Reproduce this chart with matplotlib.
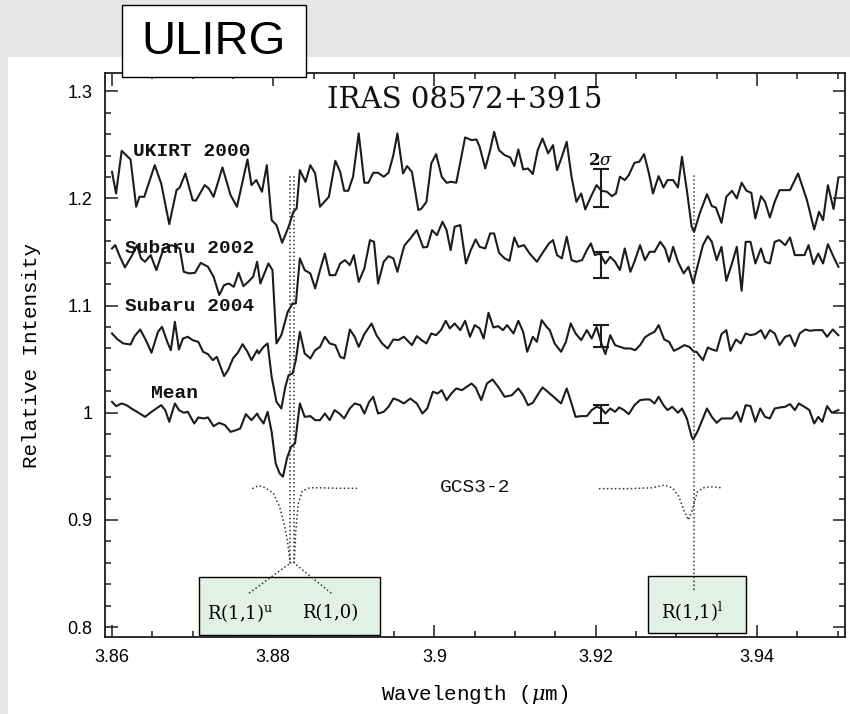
import numpy as np
import matplotlib
matplotlib.use("Agg")
import matplotlib.pyplot as plt
from matplotlib.patches import Rectangle
from matplotlib.ticker import MultipleLocator, FuncFormatter

plt.rcParams['mathtext.fontset'] = 'custom'
plt.rcParams['mathtext.rm'] = 'DejaVu Serif'
plt.rcParams['mathtext.it'] = 'DejaVu Serif:italic'

# ---------------- data ----------------
ukirt_wl = [3.8600, 3.8605, 3.8612, 3.8623, 3.8630, 3.8634, 3.8640, 3.8653, 3.8661, 3.8671, 3.8680, 3.8684,
            3.8691, 3.8700, 3.8704, 3.8715, 3.8720, 3.8726, 3.8737, 3.8747, 3.8755, 3.8768, 3.8773, 3.8779,
            3.8786, 3.8792, 3.8798, 3.8804, 3.8811, 3.8819, 3.8825, 3.8829, 3.8833, 3.8840,
            3.8846, 3.8852, 3.8858, 3.8869, 3.8877, 3.8883, 3.8888, 3.8893, 3.8899, 3.8906,
            3.8913, 3.8918, 3.8924, 3.8930, 3.8937, 3.8943, 3.8949, 3.8954, 3.8961,
            3.8966, 3.8972, 3.8980, 3.8984, 3.8990, 3.8996, 3.9002, 3.9009, 3.9015, 3.9021,
            3.9027, 3.9038, 3.9046, 3.9052, 3.9056, 3.9063, 3.9069, 3.9074, 3.9080, 3.9087,
            3.9094, 3.9099, 3.9104, 3.9110, 3.9116, 3.9122, 3.9128, 3.9134, 3.9141,
            3.9147, 3.9152, 3.9158, 3.9164, 3.9170, 3.9176, 3.9182, 3.9187, 3.9194, 3.9201,
            3.9207, 3.9214, 3.9220, 3.9225, 3.9230, 3.9236, 3.9241, 3.9248, 3.9254, 3.9260,
            3.9266, 3.9271, 3.9278, 3.9284, 3.9289, 3.9296, 3.9302, 3.9307, 3.9313, 3.9319,
            3.9322, 3.9329, 3.9338, 3.9344, 3.9349, 3.9356, 3.9362, 3.9369, 3.9375, 3.9381,
            3.9387, 3.9393, 3.9398, 3.9405, 3.9410, 3.9416, 3.9422, 3.9428, 3.9433, 3.9441,
            3.9451, 3.9462, 3.9471, 3.9477, 3.9482, 3.9488, 3.9495, 3.9501]
ukirt_int = [1.2248, 1.2046, 1.2444, 1.2363, 1.1922, 1.2015, 1.2015, 1.2310, 1.2139, 1.1760, 1.2077, 1.2102,
             1.2233, 1.1984, 1.1978, 1.2124, 1.2093, 1.2015, 1.2289, 1.2031, 1.1922, 1.2363, 1.2124, 1.2171,
             1.2062, 1.2310, 1.1797, 1.1751, 1.1586, 1.1735, 1.1875, 1.1906, 1.2264, 1.2155,
             1.2310, 1.2233, 1.1922, 1.2015, 1.2351, 1.2248, 1.2071, 1.2071, 1.2202, 1.2606,
             1.2146, 1.2146, 1.2239, 1.2239, 1.2202, 1.2239, 1.2404, 1.2606, 1.2233,
             1.2301, 1.2248, 1.1891, 1.1906, 1.1968, 1.2326, 1.2413, 1.2202, 1.2146, 1.2155,
             1.2146, 1.2569, 1.2544, 1.2550, 1.2482, 1.2279, 1.2450, 1.2621, 1.2450, 1.2404,
             1.2382, 1.2301, 1.2457, 1.2270, 1.2279, 1.2227, 1.2450, 1.2559, 1.2420,
             1.2497, 1.2264, 1.2388, 1.2528, 1.2202, 1.1968, 1.2046, 1.1897, 1.2015, 1.2124,
             1.2071, 1.2062, 1.2021, 1.2046, 1.2202, 1.2171, 1.2217, 1.2332, 1.2342, 1.2413,
             1.2233, 1.2046, 1.2208, 1.2102, 1.2171, 1.2171, 1.2102, 1.2388, 1.2077, 1.1735,
             1.1688, 1.1860, 1.2040, 1.1928, 1.1915, 1.1772, 1.2015, 1.2071, 1.2000, 1.2146,
             1.2071, 1.2052, 1.1813, 1.2021, 1.1968, 1.1822, 1.1968, 1.2077, 1.2077, 1.2077,
             1.2233, 1.1984, 1.1710, 1.1875, 1.1797, 1.2124, 1.1900, 1.2195]

subaru02_wl = [3.8600, 3.8604, 3.8609, 3.8616, 3.8625, 3.8631, 3.8636, 3.8641, 3.8648, 3.8655, 3.8664, 3.8674,
               3.8684, 3.8689, 3.8696, 3.8703, 3.8710, 3.8719, 3.8726, 3.8733, 3.8739, 3.8745, 3.8751, 3.8757,
               3.8763, 3.8769, 3.8775, 3.8780,
               3.8784, 3.8789, 3.8794, 3.8799, 3.8804, 3.8810, 3.8818, 3.8824, 3.8828, 3.8833,
               3.8839, 3.8846, 3.8852, 3.8858, 3.8864, 3.8870, 3.8877, 3.8883, 3.8889, 3.8895,
               3.8900, 3.8906, 3.8913, 3.8920, 3.8925, 3.8930, 3.8937, 3.8943, 3.8949, 3.8954, 3.8961,
               3.8963, 3.8970, 3.8978, 3.8986, 3.8991, 3.8997, 3.9003, 3.9010, 3.9015, 3.9020,
               3.9025, 3.9032, 3.9039, 3.9045, 3.9051, 3.9056, 3.9063, 3.9069, 3.9074, 3.9080,
               3.9087, 3.9093, 3.9099, 3.9104, 3.9111, 3.9118, 3.9127, 3.9135, 3.9142,
               3.9147, 3.9152, 3.9158, 3.9164, 3.9170, 3.9176, 3.9183, 3.9189, 3.9194, 3.9199,
               3.9205, 3.9212, 3.9218, 3.9224, 3.9230, 3.9236, 3.9243, 3.9248, 3.9255, 3.9261,
               3.9267, 3.9273, 3.9280, 3.9286, 3.9291, 3.9296, 3.9302, 3.9309, 3.9315, 3.9321,
               3.9325, 3.9333, 3.9339, 3.9344, 3.9350, 3.9356, 3.9362, 3.9369, 3.9375, 3.9381,
               3.9386, 3.9392, 3.9398, 3.9405, 3.9410, 3.9416, 3.9422, 3.9428, 3.9435, 3.9441,
               3.9447, 3.9453, 3.9459, 3.9464, 3.9470, 3.9476, 3.9482, 3.9488, 3.9495, 3.9501]
subaru02_int = [1.1533, 1.1564, 1.1471, 1.1356, 1.1471, 1.1564, 1.1440, 1.1409, 1.1471, 1.1331, 1.1533, 1.1564,
                1.1533, 1.1315, 1.1300, 1.1306, 1.1399, 1.1362, 1.1269, 1.1098, 1.1191, 1.1206, 1.1175, 1.1306,
                1.1181, 1.1222, 1.1269, 1.1409,
                1.1206, 1.1300, 1.1393, 1.1331, 1.0647, 1.0724, 1.0942, 1.1020, 1.1020, 1.1440,
                1.1331, 1.1300, 1.1160, 1.1331, 1.1486, 1.1284, 1.1284, 1.1393, 1.1424, 1.1377,
                1.1471, 1.1222, 1.1346, 1.1611, 1.1595, 1.1206, 1.1409, 1.1461, 1.1440, 1.1315, 1.1518,
                1.1564, 1.1626, 1.1704, 1.1542, 1.1548, 1.1704, 1.1657, 1.1782, 1.1704, 1.1517,
                1.1735, 1.1751, 1.1393, 1.1517, 1.1617, 1.1548, 1.1533, 1.1673, 1.1673, 1.1493,
                1.1440, 1.1418, 1.1636, 1.1548, 1.1564, 1.1486, 1.1409, 1.1502, 1.1580,
                1.1611, 1.1471, 1.1440, 1.1642, 1.1424, 1.1409, 1.1424, 1.1517, 1.1580, 1.1471,
                1.1486, 1.1393, 1.1455, 1.1409, 1.1331, 1.1533, 1.1315, 1.1409, 1.1564, 1.1424,
                1.1502, 1.1502, 1.1595, 1.1533, 1.1409, 1.1548, 1.1409, 1.1300, 1.1362, 1.1206,
                1.1331, 1.1564, 1.1648, 1.1595, 1.1424, 1.1548, 1.1231, 1.1393, 1.1548, 1.1138,
                1.1595, 1.1595, 1.1393, 1.1533, 1.1409, 1.1393, 1.1595, 1.1611, 1.1564, 1.1636,
                1.1471, 1.1471, 1.1471, 1.1564, 1.1387, 1.1486, 1.1393, 1.1573, 1.1455, 1.1362]

subaru04_wl = [3.8600, 3.8607, 3.8614, 3.8623, 3.8628, 3.8635, 3.8643, 3.8649, 3.8657, 3.8662, 3.8669, 3.8673,
               3.8678, 3.8683, 3.8688, 3.8694, 3.8700, 3.8707, 3.8713, 3.8719, 3.8725, 3.8730, 3.8735, 3.8739,
               3.8744, 3.8750, 3.8756, 3.8762, 3.8768, 3.8773, 3.8780,
               3.8782, 3.8788, 3.8793, 3.8798, 3.8804, 3.8810, 3.8815, 3.8819, 3.8824, 3.8828,
               3.8833, 3.8839, 3.8846, 3.8852, 3.8858, 3.8864, 3.8870, 3.8877, 3.8883, 3.8888,
               3.8895, 3.8901, 3.8906, 3.8913, 3.8922, 3.8928, 3.8935, 3.8942, 3.8949, 3.8955, 3.8962,
               3.8972, 3.8978, 3.8984, 3.8990, 3.8996, 3.9002, 3.9008, 3.9014, 3.9019, 3.9025,
               3.9032, 3.9038, 3.9044, 3.9050, 3.9056, 3.9061, 3.9067, 3.9073, 3.9079, 3.9085,
               3.9090, 3.9098, 3.9104, 3.9110, 3.9115, 3.9122, 3.9127, 3.9133, 3.9139,
               3.9143, 3.9149, 3.9157, 3.9163, 3.9169, 3.9175, 3.9182, 3.9189, 3.9195, 3.9201,
               3.9207, 3.9212, 3.9218, 3.9224, 3.9230, 3.9236, 3.9243, 3.9249, 3.9255, 3.9261,
               3.9267, 3.9273, 3.9278, 3.9285, 3.9291, 3.9297, 3.9303, 3.9310, 3.9316, 3.9322,
               3.9325, 3.9333, 3.9339, 3.9344, 3.9350, 3.9356, 3.9362, 3.9367, 3.9374, 3.9380,
               3.9386, 3.9392, 3.9398, 3.9405, 3.9410, 3.9416, 3.9422, 3.9428, 3.9435, 3.9441,
               3.9447, 3.9453, 3.9460, 3.9466, 3.9472, 3.9481, 3.9487, 3.9494, 3.9501]
subaru04_int = [1.0740, 1.0684, 1.0647, 1.0637, 1.0715, 1.0777, 1.0662, 1.0560, 1.0755, 1.0802, 1.0653, 1.0584,
                1.0849, 1.0590, 1.0693, 1.0709, 1.0678, 1.0662, 1.0569, 1.0547, 1.0491, 1.0522, 1.0423, 1.0342,
                1.0398, 1.0507, 1.0560, 1.0640, 1.0569, 1.0491, 1.0584,
                1.0553, 1.0615, 1.0647, 1.0336, 1.0102, 1.0040, 1.0242, 1.0351, 1.0367, 1.0491,
                1.0755, 1.0553, 1.0507, 1.0584, 1.0615, 1.0709, 1.0647, 1.0631, 1.0522, 1.0507,
                1.0777, 1.0709, 1.0615, 1.0734, 1.0833, 1.0724, 1.0647, 1.0600, 1.0684, 1.0678, 1.0709,
                1.0631, 1.0715, 1.0678, 1.0647, 1.0740, 1.0724, 1.0771, 1.0858, 1.0787, 1.0833,
                1.0771, 1.0858, 1.0709, 1.0818, 1.0787, 1.0693, 1.0933, 1.0796, 1.0808, 1.0771,
                1.0818, 1.0740, 1.0858, 1.0755, 1.0569, 1.0709, 1.0662, 1.0864, 1.0802,
                1.0771, 1.0647, 1.0569, 1.0662, 1.0833, 1.0740, 1.0678, 1.0771, 1.0693, 1.0802,
                1.0647, 1.0547, 1.0724, 1.0631, 1.0615, 1.0600, 1.0600, 1.0584, 1.0631, 1.0703,
                1.0734, 1.0755, 1.0818, 1.0684, 1.0662, 1.0578, 1.0600, 1.0631, 1.0615, 1.0569,
                1.0569, 1.0491, 1.0609, 1.0591, 1.0578, 1.0734, 1.0771, 1.0578, 1.0684, 1.0647,
                1.0740, 1.0724, 1.0734, 1.0771, 1.0693, 1.0771, 1.0740, 1.0631, 1.0709, 1.0724,
                1.0622, 1.0740, 1.0777, 1.0765, 1.0771, 1.0771, 1.0709, 1.0777, 1.0724]

mean_wl = [3.8600, 3.8605, 3.8612, 3.8618, 3.8624, 3.8631, 3.8641, 3.8649, 3.8655, 3.8661, 3.8666, 3.8671,
           3.8678, 3.8683, 3.8689, 3.8694, 3.8702, 3.8707, 3.8714, 3.8719, 3.8726, 3.8733, 3.8740, 3.8747,
           3.8754, 3.8759, 3.8766, 3.8773, 3.8780,
           3.8782, 3.8788, 3.8793, 3.8798, 3.8803, 3.8808, 3.8812, 3.8817, 3.8822, 3.8827,
           3.8833, 3.8839, 3.8846, 3.8852, 3.8858, 3.8864, 3.8870, 3.8876, 3.8882, 3.8888,
           3.8895, 3.8901, 3.8908, 3.8913, 3.8919, 3.8924, 3.8930, 3.8937, 3.8943, 3.8949, 3.8955, 3.8962,
           3.8970, 3.8978, 3.8985, 3.8991, 3.8998, 3.9004, 3.9009, 3.9015, 3.9021, 3.9027,
           3.9034, 3.9040, 3.9046, 3.9051, 3.9058, 3.9065, 3.9072, 3.9079, 3.9087, 3.9096,
           3.9104, 3.9110, 3.9116, 3.9122, 3.9129, 3.9134, 3.9143,
           3.9150, 3.9157, 3.9164, 3.9170, 3.9175, 3.9182, 3.9189, 3.9195, 3.9201, 3.9207,
           3.9212, 3.9218, 3.9224, 3.9229, 3.9235, 3.9241, 3.9248, 3.9255, 3.9261, 3.9267,
           3.9273, 3.9278, 3.9284, 3.9289, 3.9295, 3.9302, 3.9307, 3.9313, 3.9319,
           3.9321, 3.9327, 3.9338, 3.9344, 3.9350, 3.9356, 3.9362, 3.9369, 3.9375, 3.9380,
           3.9386, 3.9392, 3.9398, 3.9404, 3.9410, 3.9416, 3.9422, 3.9429, 3.9435, 3.9441,
           3.9447, 3.9452, 3.9460, 3.9465, 3.9471, 3.9476, 3.9481, 3.9487, 3.9493, 3.9501]
mean_int = [1.0102, 1.0062, 1.0087, 1.0071, 1.0040, 1.0009, 0.9962, 1.0009, 1.0040, 1.0071, 1.0025, 0.9916,
            1.0087, 1.0025, 1.0000, 1.0009, 0.9900, 0.9956, 0.9947, 0.9956, 0.9875, 0.9906, 0.9885, 0.9822,
            0.9838, 0.9853, 0.9987, 0.9931, 0.9993,
            0.9962, 0.9900, 1.0009, 0.9822, 0.9527, 0.9434, 0.9403, 0.9574, 0.9683, 0.9714,
            1.0087, 0.9962, 0.9969, 0.9931, 0.9931, 0.9993, 0.9931, 1.0025, 0.9993, 0.9947,
            1.0040, 1.0087, 1.0071, 0.9993, 1.0102, 1.0149, 0.9993, 1.0009, 1.0056, 1.0133, 1.0118, 1.0087,
            1.0133, 1.0087, 0.9993, 1.0040, 1.0196, 1.0180, 1.0211, 1.0118, 1.0180, 1.0227,
            1.0211, 1.0242, 1.0273, 1.0236, 1.0118, 1.0273, 1.0311, 1.0242, 1.0149, 1.0164,
            1.0227, 1.0164, 1.0071, 1.0093, 1.0180, 1.0236, 1.0180,
            1.0133, 1.0087, 1.0227, 1.0087, 0.9962, 0.9969, 0.9969, 1.0025, 1.0056, 1.0040,
            0.9993, 1.0040, 1.0009, 1.0050, 1.0025, 0.9987, 1.0071, 1.0118, 1.0124, 1.0124,
            1.0087, 1.0149, 1.0071, 1.0025, 1.0056, 1.0000, 1.0040, 0.9947, 0.9776,
            0.9751, 0.9838, 1.0040, 0.9962, 0.9906, 0.9947, 0.9947, 0.9947, 1.0009, 0.9916,
            1.0071, 1.0062, 0.9916, 1.0040, 0.9962, 0.9947, 1.0040, 1.0050, 1.0056, 1.0081,
            1.0025, 1.0087, 1.0050, 1.0025, 0.9900, 0.9962, 0.9916, 1.0062, 1.0000, 1.0025]

# GCS3-2 comparison spectrum (dotted)
gcs_left_wl = [3.8774, 3.8782, 3.8790, 3.8800, 3.8808, 3.8814, 3.8818, 3.8821,
               3.8826, 3.8828, 3.8831, 3.8836, 3.8845, 3.8860, 3.8880, 3.8904]
gcs_left_int = [0.9292, 0.9320, 0.9300, 0.9250, 0.9120, 0.8950, 0.8780, 0.8600,
                0.8600, 0.8900, 0.9150, 0.9270, 0.9300, 0.9300, 0.9295, 0.9295]
gcs_right_wl = [3.9204, 3.9240, 3.9270, 3.9285, 3.9295, 3.9303, 3.9310, 3.9315,
                3.9320, 3.9326, 3.9333, 3.9345, 3.9356]
gcs_right_int = [0.9292, 0.9292, 0.9300, 0.9325, 0.9300, 0.9220, 0.9080, 0.9000,
                 0.9100, 0.9260, 0.9300, 0.9310, 0.9300]

# H3+ line positions
line_wl = [3.8821, 3.8826, 3.9322]
line_names = [r'R(1,1)$^{\mathrm{u}}$', 'R(1,0)', r'R(1,1)$^{\mathrm{l}}$']

# 2-sigma error bars
errbar_wl = 3.9206
errbar_center = [1.2094, 1.1377, 1.0717, 0.9986]
errbar_half = [0.0176, 0.0123, 0.0101, 0.0086]

spec_names = ['UKIRT 2000', 'Subaru 2002', 'Subaru 2004', 'Mean']
spec_label_pos = [(3.8626, 1.2442), (3.8616, 1.1532), (3.8616, 1.0991), (3.8648, 1.0179)]

# ---------------- figure ----------------
W, H = 850, 714
fig = plt.figure(figsize=(W / 100, H / 100), dpi=100)
fig.patch.set_facecolor('#e6e6e6')
fig.patches.append(Rectangle((8 / W, 0), 1, (H - 57) / H, transform=fig.transFigure,
                             facecolor='white', edgecolor='none', zorder=-10))

ax_l, ax_r, ax_t, ax_b = 105, 845, 73, 637
ax = fig.add_axes([ax_l / W, 1 - ax_b / H, (ax_r - ax_l) / W, (ax_b - ax_t) / H])
ax.set_xlim(3.85913, 3.95092)
ax.set_ylim(0.7908, 1.3170)

ink = '#1c1c1c'
specs = [(ukirt_wl, ukirt_int), (subaru02_wl, subaru02_int),
         (subaru04_wl, subaru04_int), (mean_wl, mean_int)]
for wl, fl in specs:
    ax.plot(wl, fl, color=ink, lw=1.5, zorder=3)

dot = (0, (1.0, 1.6))
ax.plot(gcs_left_wl, gcs_left_int, color='#333333', lw=1.1, ls=dot, zorder=3)
ax.plot(gcs_right_wl, gcs_right_int, color='#333333', lw=1.1, ls=dot, zorder=3)

# vertical line markers
ax.plot([line_wl[0], line_wl[0]], [0.8597, 1.2216], color='#333333', lw=1.1, ls=dot, zorder=3)
ax.plot([line_wl[1], line_wl[1]], [0.8597, 1.2216], color='#333333', lw=1.1, ls=dot, zorder=3)
ax.plot([line_wl[2], line_wl[2]], [0.8345, 1.2216], color='#333333', lw=1.1, ls=dot, zorder=3)
# leader lines to labels
ax.plot([3.8770, line_wl[0]], [0.8317, 0.8597], color='#333333', lw=1.1, ls=dot, zorder=3)
ax.plot([3.8872, line_wl[1]], [0.8317, 0.8597], color='#333333', lw=1.1, ls=dot, zorder=3)

# label boxes
box_fc = '#e1f1e5'
ax.add_patch(Rectangle((3.87079, 0.7926), 0.02245, 0.0541, facecolor=box_fc,
                       edgecolor='black', lw=1.0, zorder=2))
ax.add_patch(Rectangle((3.92649, 0.7945), 0.01215, 0.0532, facecolor=box_fc,
                       edgecolor='black', lw=1.0, zorder=2))
ax.text(3.8759, 0.8131, line_names[0], ha='center', va='center', fontsize=13,
        family='DejaVu Serif', zorder=4)
ax.text(3.8870, 0.8131, line_names[1], ha='center', va='center', fontsize=13,
        family='DejaVu Serif', zorder=4)
ax.text(3.9319, 0.8140, line_names[2], ha='center', va='center', fontsize=13,
        family='DejaVu Serif', zorder=4)

# error bars
ax.errorbar([errbar_wl] * 4, errbar_center, yerr=errbar_half, fmt='none',
            ecolor=ink, elinewidth=1.5, capsize=5.5, capthick=1.5, zorder=3)
ax.text(errbar_wl, 1.2357, r'2$\sigma$', ha='center', va='center', fontsize=12,
        family='DejaVu Serif', fontweight='bold', zorder=4)

# spectrum labels
for name, (x, y) in zip(spec_names, spec_label_pos):
    ax.text(x, y, name, ha='left', va='center', fontsize=14, family='Liberation Mono',
            fontweight='bold', color='#111111', zorder=4)

ax.text(3.9050, 0.9300, 'GCS3-2', ha='center', va='center', fontsize=14,
        family='Liberation Mono', color='#111111', zorder=4)
ax.text(3.9038, 1.2916, 'IRAS 08572+3915', ha='center', va='center', fontsize=21,
        family='DejaVu Serif', color='#111111', zorder=4)

# axes styling
ax.xaxis.set_major_locator(MultipleLocator(0.02))
ax.xaxis.set_minor_locator(MultipleLocator(0.005))
ax.yaxis.set_major_locator(MultipleLocator(0.1))
ax.yaxis.set_minor_locator(MultipleLocator(0.02))
fmt = FuncFormatter(lambda v, p: '%g' % round(v, 4))
ax.xaxis.set_major_formatter(fmt)
ax.yaxis.set_major_formatter(fmt)
ax.tick_params(which='both', direction='in', top=True, right=True, color=ink, width=1.1)
ax.tick_params(which='major', length=9, labelsize=13, pad=9)
ax.tick_params(which='minor', length=4.5)
for lab in ax.get_xticklabels() + ax.get_yticklabels():
    lab.set_family('Liberation Sans')
for sp in ax.spines.values():
    sp.set_linewidth(1.3)
    sp.set_color(ink)

ax.set_xlabel(r'Wavelength ($\mu$m)', family='Liberation Mono', fontsize=15, va='center')
ax.xaxis.set_label_coords(0.5, -(695 - ax_b) / (ax_b - ax_t))
ax.set_ylabel('Relative Intensity', family='Liberation Mono', fontsize=15, va='center')
ax.yaxis.set_label_coords((32 - ax_l) / (ax_r - ax_l), 0.5)

# ULIRG tag
fig.patches.append(Rectangle((122 / W, 1 - 77 / H), 184 / W, 72 / H, transform=fig.transFigure,
                             facecolor='white', edgecolor='black', lw=1.0, zorder=5))
fig.text(214 / W, 1 - 42 / H, 'ULIRG', ha='center', va='center', fontsize=34,
         family='Liberation Sans', zorder=6)

fig.savefig('out.png', dpi=100, facecolor=fig.get_facecolor())
